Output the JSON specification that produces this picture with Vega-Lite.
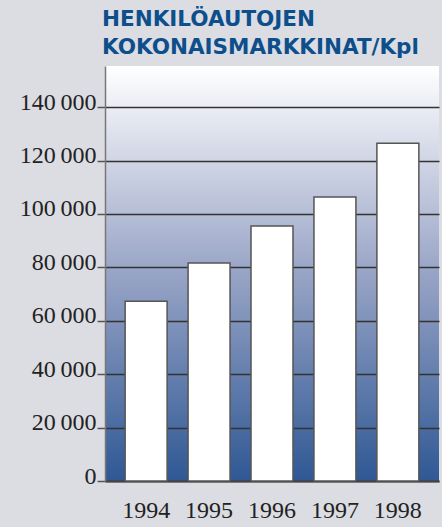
{
  "$schema": "https://vega.github.io/schema/vega-lite/v6.json",
  "width": 334,
  "height": 415,
  "autosize": "none",
  "padding": {"left": 105, "top": 66, "right": 3, "bottom": 46},
  "background": "#dcdce3",
  "title": {
    "text": ["HENKILÖAUTOJEN", "KOKONAISMARKKINAT/Kpl"],
    "anchor": "start",
    "frame": "group",
    "dx": -3,
    "offset": 8,
    "font": "DejaVu Sans",
    "fontWeight": "bold",
    "fontSize": 21.5,
    "lineHeight": 28,
    "color": "#0d4f8b"
  },
  "data": {
    "values": [
      {"year": "1994", "value": 67300},
      {"year": "1995", "value": 81600},
      {"year": "1996", "value": 95500},
      {"year": "1997", "value": 106300},
      {"year": "1998", "value": 126500}
    ]
  },
  "mark": {"type": "bar", "fill": "#ffffff", "stroke": "#555555", "strokeWidth": 1.5},
  "encoding": {
    "x": {
      "field": "year",
      "type": "nominal",
      "scale": {"paddingInner": 0.333, "paddingOuter": 0.32},
      "axis": {
        "title": null,
        "labelAngle": 0,
        "ticks": false,
        "labelPadding": 17,
        "labelFont": "Liberation Serif",
        "labelFontSize": 24,
        "labelColor": "#222222",
        "domainColor": "#444444",
        "domainWidth": 2
      }
    },
    "y": {
      "field": "value",
      "type": "quantitative",
      "scale": {"domain": [0, 155400], "nice": false, "zero": true},
      "axis": {
        "title": null,
        "values": [0, 20000, 40000, 60000, 80000, 100000, 120000, 140000],
        "labelExpr": "replace(format(datum.value, ','), ',', '\u2009')",
        "labelFont": "Liberation Serif",
        "labelFontSize": 24,
        "labelColor": "#222222",
        "labelPadding": 1,
        "labelOffset": -5,
        "tickSize": 8,
        "tickColor": "#555555",
        "tickWidth": 1.5,
        "domainColor": "#777777",
        "domainWidth": 1.5,
        "grid": true,
        "gridColor": "#333333",
        "gridWidth": 1.5,
        "gridOpacity": 1
      }
    }
  },
  "config": {
    "view": {
      "stroke": null,
      "fill": {
        "gradient": "linear",
        "x1": 0, "y1": 0, "x2": 0, "y2": 1,
        "stops": [
          {"offset": 0, "color": "#ffffff"},
          {"offset": 0.5, "color": "#98a4c6"},
          {"offset": 1, "color": "#2f5894"}
        ]
      }
    }
  }
}
